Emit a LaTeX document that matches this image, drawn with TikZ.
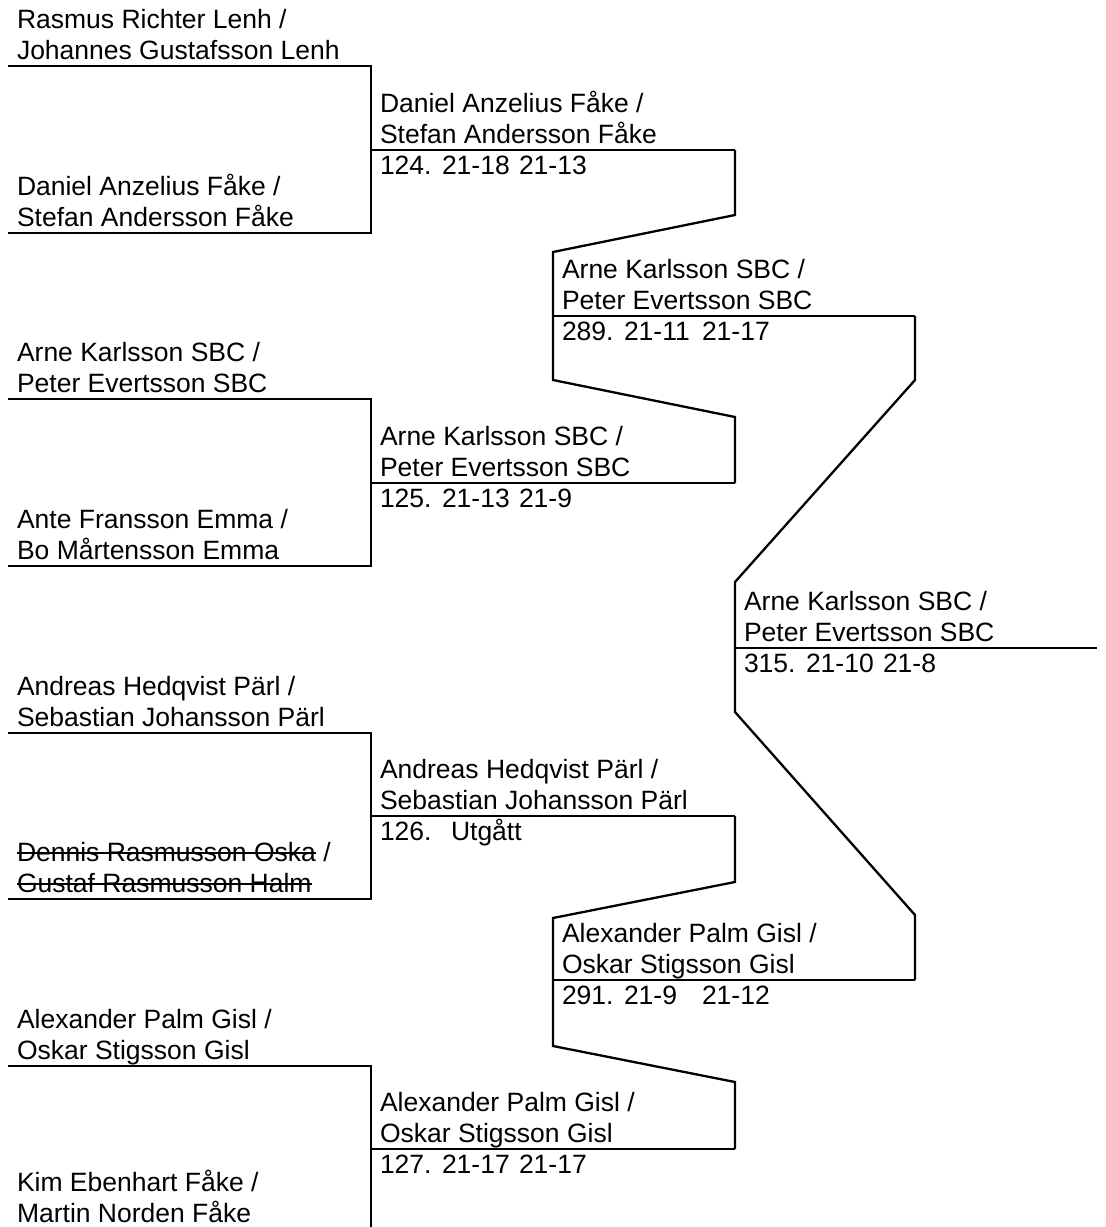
\documentclass[tikz,border=0pt]{standalone}
\usepackage{fontspec}
\setmainfont{Liberation Sans}
\newcommand\teampair[5]{%
  \node[lbl] (#1a) at (#2,#3-38) {#4};
  \node[lbl] (#1b) at (#2,#3-7) {#5};}
\begin{document}
\begin{tikzpicture}[x=1pt,y=-1pt,
  ln/.style={line width=2.3pt, line join=miter},
  lbl/.style={anchor=base west, inner sep=0pt, outer sep=0pt, font=\fontsize{26.5}{31}\selectfont},
  strike/.style={line width=1.7pt}]
\useasboundingbox (0,0) rectangle (1106,1227);
\clip (0,0) rectangle (1106,1227);
% ---- round 1 brackets
\foreach \t/\b in {66/233, 399/566, 733/899, 1066/1233}
  \draw[ln] (8,\t) -- (371,\t) -- (371,\b) -- (8,\b);
% ---- round 2 lines
\foreach \m in {150,483,816,1149}
  \draw[ln] (371,\m) -- (735,\m);
% ---- round 2 -> 3 connectors
\draw[ln] (735,150) -- (735,215) -- (553,252) -- (553,380) -- (735,417) -- (735,483);
\draw[ln] (735,816) -- (735,882) -- (553,918) -- (553,1046) -- (735,1082) -- (735,1149);
\draw[ln] (553,316) -- (915,316);
\draw[ln] (553,980) -- (915,980);
% ---- round 3 -> final
\draw[ln] (915,316) -- (915,380) -- (735,582) -- (735,712) -- (915,915) -- (915,980);
\draw[ln] (735,648) -- (1097,648);
% ---- round 1 texts
\teampair{p1}{17}{66}{Rasmus Richter Lenh /}{Johannes Gustafsson Lenh}
\teampair{p2}{17}{233}{Daniel Anzelius Fåke /}{Stefan Andersson Fåke}
\teampair{p3}{17}{399}{Arne Karlsson SBC /}{Peter Evertsson SBC}
\teampair{p4}{17}{566}{Ante Fransson Emma /}{Bo Mårtensson Emma}
\teampair{p5}{17}{733}{Andreas Hedqvist Pärl /}{Sebastian Johansson Pärl}
\node[lbl] (p6a) at (17,899-38) {Dennis Rasmusson Oska};
\node[lbl] (p6s) at (p6a.base east) {~/};
\node[lbl] (p6b) at (17,899-7) {Gustaf Rasmusson Halm};
\draw[strike] ([yshift=8pt]p6a.base west) -- ([yshift=8pt]p6a.base east);
\draw[strike] ([yshift=8pt]p6b.base west) -- ([yshift=8pt]p6b.base east);
\teampair{p7}{17}{1066}{Alexander Palm Gisl /}{Oskar Stigsson Gisl}
\teampair{p8}{17}{1229}{Kim Ebenhart Fåke /}{Martin Norden Fåke}
% ---- round 2 texts
\teampair{q1}{380}{150}{Daniel Anzelius Fåke /}{Stefan Andersson Fåke}
\node[lbl] (q1n) at (380,174) {124.};
\node[lbl] (q1s) at (442,174) {21-18};
\node[lbl] (q1t) at (519,174) {21-13};
\teampair{q2}{380}{483}{Arne Karlsson SBC /}{Peter Evertsson SBC}
\node[lbl] (q2n) at (380,507) {125.};
\node[lbl] (q2s) at (442,507) {21-13};
\node[lbl] (q2t) at (519,507) {21-9};
\teampair{q3}{380}{816}{Andreas Hedqvist Pärl /}{Sebastian Johansson Pärl}
\node[lbl] (q3n) at (380,840) {126.};
\node[lbl] (q3s) at (451,840) {Utgått};
\teampair{q4}{380}{1149}{Alexander Palm Gisl /}{Oskar Stigsson Gisl}
\node[lbl] (q4n) at (380,1173) {127.};
\node[lbl] (q4s) at (442,1173) {21-17};
\node[lbl] (q4t) at (519,1173) {21-17};
% ---- round 3 texts
\teampair{s1}{562}{316}{Arne Karlsson SBC /}{Peter Evertsson SBC}
\node[lbl] (s1n) at (562,340) {289.};
\node[lbl] (s1s) at (624,340) {21-11};
\node[lbl] (s1t) at (702,340) {21-17};
\teampair{s2}{562}{980}{Alexander Palm Gisl /}{Oskar Stigsson Gisl}
\node[lbl] (s2n) at (562,1004) {291.};
\node[lbl] (s2s) at (624,1004) {21-9};
\node[lbl] (s2t) at (702,1004) {21-12};
% ---- final
\teampair{f1}{744}{648}{Arne Karlsson SBC /}{Peter Evertsson SBC}
\node[lbl] (f1n) at (744,672) {315.};
\node[lbl] (f1s) at (806,672) {21-10};
\node[lbl] (f1t) at (883,672) {21-8};
\end{tikzpicture}
\end{document}
